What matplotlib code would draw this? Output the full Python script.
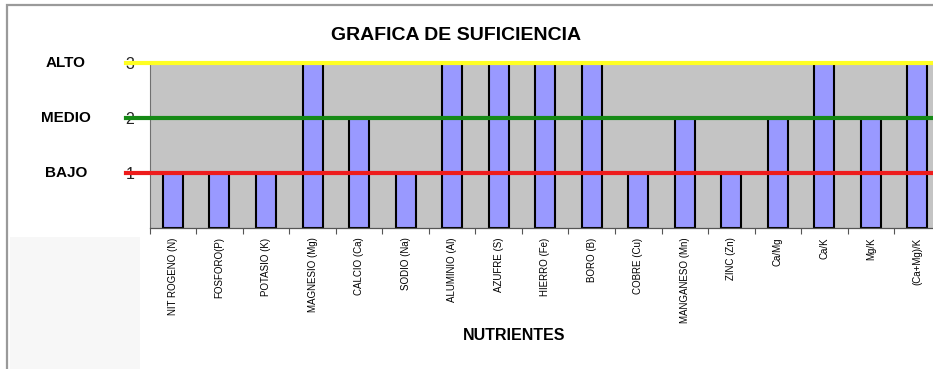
import numpy as np
import matplotlib
matplotlib.use('Agg')
import matplotlib.pyplot as plt
from matplotlib.patches import Rectangle

plt.rcParams['font.family'] = ['Liberation Sans', 'DejaVu Sans']

# nutrientes y nivel de suficiencia (1 bajo, 2 medio, 3 alto)
nutrientes = ['NIT ROGENO (N)', 'FOSFORO(P)', 'POTASIO (K)', 'MAGNESIO (Mg)',
              'CALCIO (Ca)', 'SODIO (Na)', 'ALUMINIO (Al)', 'AZUFRE (S)',
              'HIERRO (Fe)', 'BORO (B)', 'COBRE (Cu)', 'MANGANESO (Mn)',
              'ZINC (Zn)', 'Ca/Mg', 'Ca/K', 'Mg/K', '(Ca+Mg)/K']
nivel = [1, 1, 1, 3, 2, 1, 3, 3, 3, 3, 1, 2, 1, 2, 3, 2, 3]

niveles = [1, 2, 3]
nombres_nivel = ['BAJO', 'MEDIO', 'ALTO']
colores_nivel = ['#ee1c1c', '#168a16', '#ffff22']

W, H = 933, 369
fig = plt.figure(figsize=(W / 100, H / 100), dpi=100)
fig.patch.set_facecolor('white')

# marco exterior y fondo tenue a la izquierda
fig.add_artist(Rectangle((10 / W, 0), 130 / W, 132 / H, transform=fig.transFigure,
                         facecolor='#f7f7f7', edgecolor='none', zorder=0))
fig.add_artist(Rectangle((7 / W, -0.05), 1.1, 1 - 5 / H + 0.05, transform=fig.transFigure,
                         facecolor='none', edgecolor='#9a9a9a', lw=1.6, zorder=1))

ax = fig.add_axes([149.7 / W, (H - 227.7) / H, 791 / W, 164.4 / H])
ax.set_facecolor('#c4c4c4')

x = np.arange(len(nutrientes))
ax.bar(x, nivel, width=0.43, color='#9999ff', edgecolor='black', linewidth=1.5, zorder=2)

for v, c in zip(niveles, colores_nivel):
    ax.axhline(v, xmin=-0.03, xmax=1, color=c, lw=3.0, clip_on=False, zorder=4)

ax.set_xlim(-0.5, len(nutrientes) - 0.5)
ax.set_ylim(0, 3)

ax.set_yticks(niveles)
ax.set_yticklabels([str(v) for v in niveles], fontsize=11.5, color='#222222')
ax.tick_params(axis='y', length=0, pad=11)

ax.set_xticks(x)
ax.set_xticklabels(nutrientes, rotation=90, fontsize=7, va='top')
ax.tick_params(axis='x', length=0, pad=7)
ax.set_xticks(np.arange(len(nutrientes) + 1) - 0.5, minor=True)
ax.tick_params(axis='x', which='minor', length=4, color='#555555', width=0.8)

for s in ['top', 'right']:
    ax.spines[s].set_visible(False)
ax.spines['left'].set_color('#707070')
ax.spines['left'].set_linewidth(0.8)
ax.spines['bottom'].set_color('#555555')
ax.spines['bottom'].set_linewidth(0.9)

# etiquetas de los niveles
for v, n in zip(niveles, nombres_nivel):
    ax.annotate(n, xy=(66 / W, v), xycoords=('figure fraction', 'data'),
                ha='center', va='center', fontsize=11, fontweight='bold',
                annotation_clip=False)

fig.text(456 / W, 1 - 35 / H, 'GRAFICA DE SUFICIENCIA', ha='center', va='center',
         fontsize=14, fontweight='bold')
fig.text(514 / W, 1 - 335 / H, 'NUTRIENTES', ha='center', va='center',
         fontsize=11.5, fontweight='bold')

fig.savefig('out.png', dpi=100)
